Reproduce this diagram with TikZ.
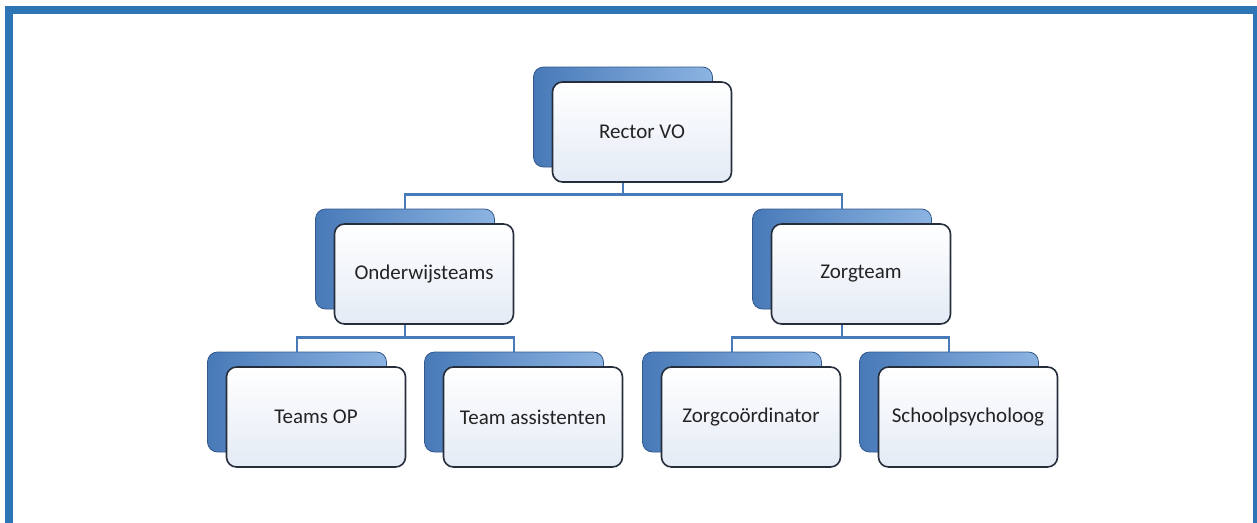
\documentclass[tikz,border=0pt]{standalone}
\usepackage{fontspec}
\setmainfont{Carlito}
\usepackage{tikz}
\usetikzlibrary{positioning}
\definecolor{col1}{RGB}{46,117,182}
\definecolor{col2}{RGB}{72,122,184}
\definecolor{col3}{RGB}{52,88,140}
\definecolor{col4}{RGB}{140,180,226}
\definecolor{col5}{RGB}{38,46,60}
\definecolor{col6}{RGB}{228,235,245}
\definecolor{col7}{RGB}{35,35,35}
\tikzstyle{backbox}=[draw=col3, left color=col2, right color=col4, rounded corners=10pt, minimum width=179pt, minimum height=100pt, line width=0.8pt]
\tikzstyle{unit}=[draw=col5, top color=white, bottom color=col6, rounded corners=10pt, minimum width=179pt, minimum height=100pt, line width=1.6pt, text=col7, align=center]
\tikzstyle{link}=[draw=col2, line width=2.2pt]
\tikzstyle{rim}=[draw=col1, line width=8pt]
\begin{document}
\begin{tikzpicture}[x=1pt,y=-1pt,font=\fontsize{21}{25}\selectfont]
    \useasboundingbox (0,0) rectangle (1257,522);
    \clip (0,0) rectangle (1257,522);
    \draw [rim] (9,9.5) rectangle (1257,540);
    \node [backbox] (rectorB) at (623,117) {};
    \node [backbox] (onderwijsB) at (405,259) {};
    \node [backbox] (zorgteamB) at (842,259) {};
    \node [backbox] (teamsopB) at (297,402) {};
    \node [backbox] (assistB) at (514,402) {};
    \node [backbox] (coordB) at (732,402) {};
    \node [backbox] (psychB) at (949,402) {};
    \draw [link] (rectorB.south) -- ++(0,27) -| (onderwijsB.north);
    \draw [link] (rectorB.south) -- ++(0,27) -| (zorgteamB.north);
    \draw [link] (onderwijsB.south) -- ++(0,28) -| (teamsopB.north);
    \draw [link] (onderwijsB.south) -- ++(0,28) -| (assistB.north);
    \draw [link] (zorgteamB.south) -- ++(0,28) -| (coordB.north);
    \draw [link] (zorgteamB.south) -- ++(0,28) -| (psychB.north);
    \node [unit] (rector) at ([shift={(19,15)}]rectorB) {Rector VO};
    \node [unit] (onderwijs) at ([shift={(19,15)}]onderwijsB) {Onderwijsteams};
    \node [unit] (zorgteam) at ([shift={(19,15)}]zorgteamB) {Zorgteam};
    \node [unit] (teamsop) at ([shift={(19,15)}]teamsopB) {Teams OP};
    \node [unit] (assist) at ([shift={(19,15)}]assistB) {Team assistenten};
    \node [unit] (coord) at ([shift={(19,15)}]coordB) {Zorgcoördinator};
    \node [unit] (psych) at ([shift={(19,15)}]psychB) {Schoolpsycholoog};
\end{tikzpicture}
\end{document}
